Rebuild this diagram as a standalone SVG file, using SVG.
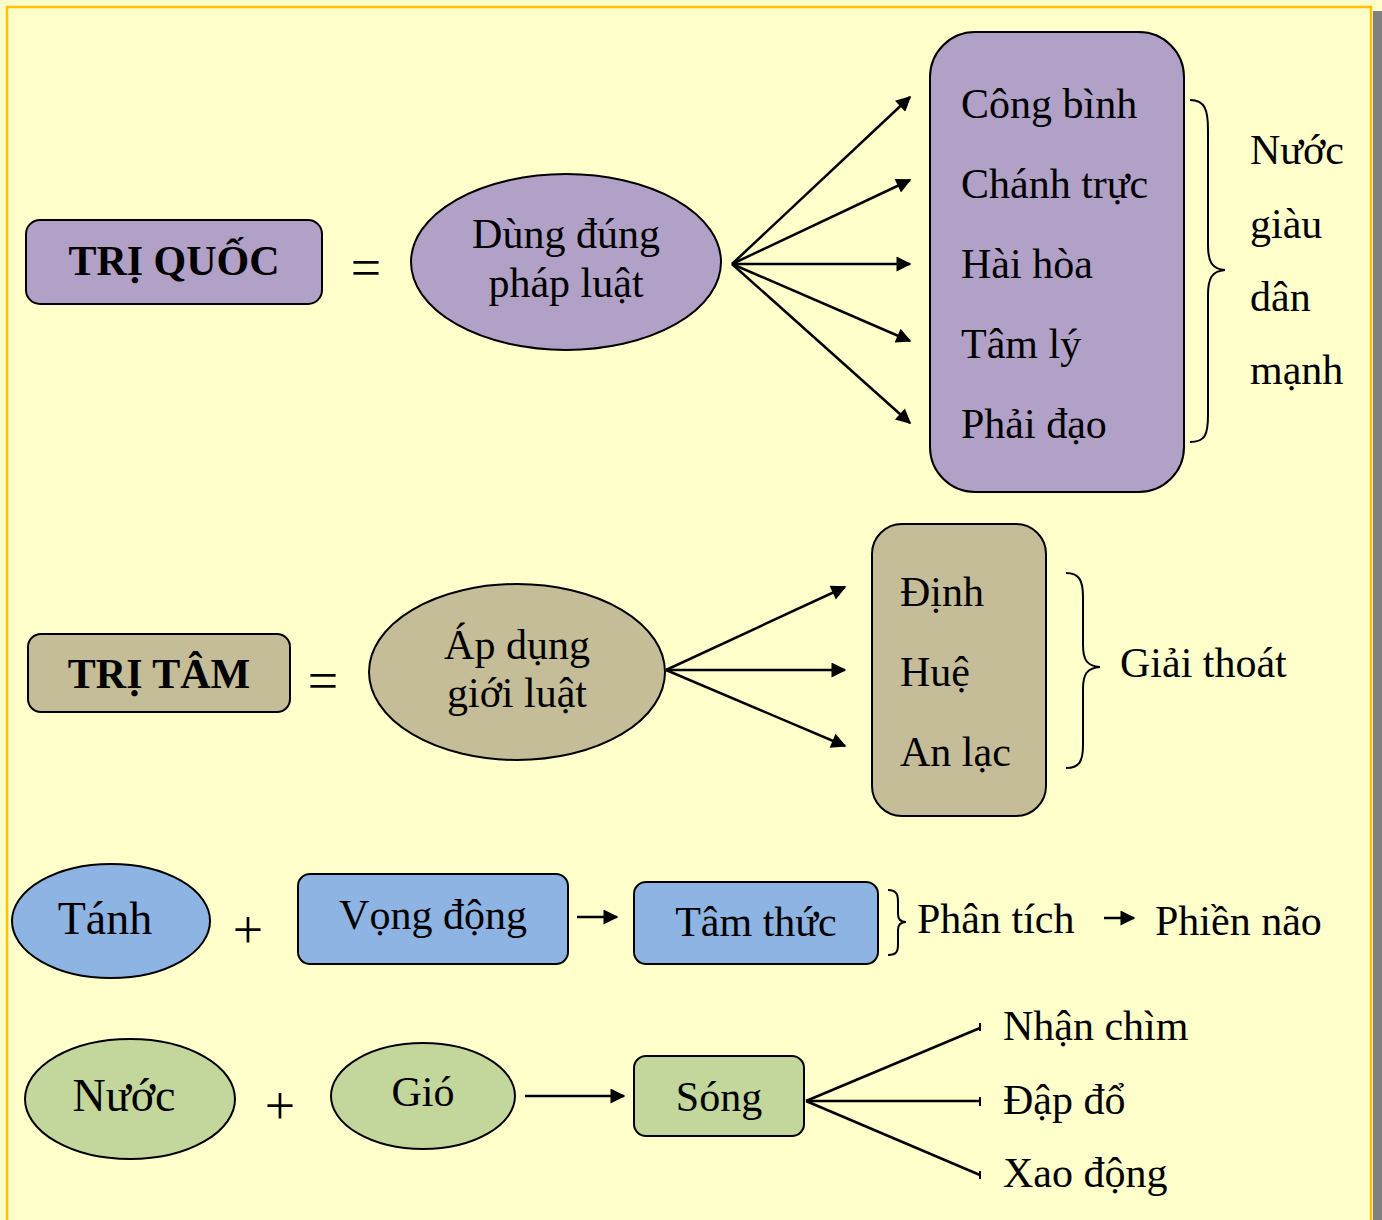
<svg xmlns="http://www.w3.org/2000/svg" width="1382" height="1220" viewBox="0 0 1382 1220">
<defs>
<style>
.t{font-family:"Liberation Serif","Times New Roman",serif;font-size:42px;fill:#000}
.b{font-weight:bold}
.big{font-size:46px}
.op{font-size:54px}
.s{stroke:#000;stroke-width:2}
.ln{stroke:#000;stroke-width:2.5;fill:none}
.br{stroke:#000;stroke-width:2;fill:none}
.pu{fill:#B2A1C7}
.tn{fill:#C4BD97}
.bl{fill:#8EB4E3}
.gr{fill:#C3D69B}
</style>
<marker id="ah" viewBox="0 0 10 10" refX="9" refY="5" markerWidth="7" markerHeight="6" markerUnits="strokeWidth" orient="auto">
<path d="M0,0 L10,5 L0,10 Z" fill="#000"/>
</marker>
</defs>
<rect x="0" y="0" width="1382" height="1220" fill="#FFFFCC"/>
<rect x="1373" y="11" width="9" height="1209" fill="#808080"/>
<path d="M7,1220 V7 H1371 V1220" fill="none" stroke="#FFC000" stroke-width="2.5"/>

<g id="connectors">
<line class="ln" x1="732" y1="264" x2="910" y2="97" marker-end="url(#ah)"/>
<line class="ln" x1="732" y1="264" x2="910" y2="180" marker-end="url(#ah)"/>
<line class="ln" x1="732" y1="264" x2="910" y2="264" marker-end="url(#ah)"/>
<line class="ln" x1="732" y1="264" x2="910" y2="341" marker-end="url(#ah)"/>
<line class="ln" x1="732" y1="264" x2="910" y2="423" marker-end="url(#ah)"/>
<line class="ln" x1="666" y1="670" x2="845" y2="587" marker-end="url(#ah)"/>
<line class="ln" x1="666" y1="670" x2="845" y2="670" marker-end="url(#ah)"/>
<line class="ln" x1="666" y1="670" x2="845" y2="746" marker-end="url(#ah)"/>
<line class="ln" x1="577" y1="917" x2="617" y2="917" marker-end="url(#ah)"/>
<line class="ln" x1="1104" y1="918" x2="1134" y2="918" marker-end="url(#ah)"/>
<line class="ln" x1="525" y1="1096" x2="624" y2="1096" marker-end="url(#ah)"/>
<line class="ln" x1="806" y1="1101" x2="980" y2="1028"/>
<line class="ln" x1="806" y1="1101" x2="980" y2="1101"/>
<line class="ln" x1="806" y1="1101" x2="980" y2="1175"/>
<line class="br" x1="980" y1="1023" x2="980" y2="1031"/>
<line class="br" x1="980" y1="1097" x2="980" y2="1106"/>
<line class="br" x1="980" y1="1171" x2="980" y2="1179"/>
<path class="br" d="M1190,100 C1205,100 1208,110 1208,130 L1208,245 C1208,262 1212,269 1225,270 C1212,271 1208,278 1208,295 L1208,415 C1208,435 1205,442 1190,442"/>
<path class="br" d="M1066,573 C1079,573 1083,580 1083,597 L1083,645 C1083,660 1087,666 1100,667 C1087,668 1083,674 1083,689 L1083,745 C1083,762 1079,768 1066,768"/>
<path class="br" d="M888,890 C897,890 898,895 898,902 L898,914 C898,919 901,922 906,922 C901,922 898,925 898,930 L898,944 C898,951 897,955 888,955"/>
</g>

<g id="tri-quoc"><rect class="s pu" x="26" y="220" width="296" height="84" rx="14"/><text class="t b" x="174" y="275" text-anchor="middle">TRỊ QUỐC</text></g>
<g id="eq1"><text class="t op" x="366" y="286" text-anchor="middle">=</text></g>
<g id="dung-dung"><ellipse class="s pu" cx="566" cy="262" rx="155" ry="88"/><text class="t" x="566" y="248" text-anchor="middle">Dùng đúng</text><text class="t" x="566" y="297" text-anchor="middle">pháp luật</text></g>
<g id="qualities"><rect class="s pu" x="930" y="32" width="254" height="460" rx="45"/>
<text class="t" x="961" y="118">Công bình</text>
<text class="t" x="961" y="198">Chánh trực</text>
<text class="t" x="961" y="278">Hài hòa</text>
<text class="t" x="961" y="358">Tâm lý</text>
<text class="t" x="961" y="438">Phải đạo</text></g>
<g id="nuoc-giau"><text class="t" x="1250" y="164">Nước</text><text class="t" x="1250" y="238">giàu</text><text class="t" x="1250" y="311">dân</text><text class="t" x="1250" y="384">mạnh</text></g>

<g id="tri-tam"><rect class="s tn" x="28" y="634" width="262" height="78" rx="13"/><text class="t b" x="159" y="688" text-anchor="middle">TRỊ TÂM</text></g>
<g id="eq2"><text class="t op" x="323" y="699" text-anchor="middle">=</text></g>
<g id="ap-dung"><ellipse class="s tn" cx="517" cy="672" rx="148" ry="88"/><text class="t" x="517" y="659" text-anchor="middle">Áp dụng</text><text class="t" x="517" y="707" text-anchor="middle">giới luật</text></g>
<g id="dinh-hue"><rect class="s tn" x="872" y="524" width="174" height="292" rx="30"/>
<text class="t" x="900" y="606">Định</text>
<text class="t" x="900" y="686">Huệ</text>
<text class="t" x="900" y="766">An lạc</text></g>
<g id="giai-thoat"><text class="t" x="1120" y="677">Giải thoát</text></g>

<g id="tanh"><ellipse class="s bl" cx="111" cy="921" rx="99" ry="57"/><text class="t big" x="105" y="934" text-anchor="middle">Tánh</text></g>
<g id="plus1"><text class="t op" x="248" y="948" text-anchor="middle">+</text></g>
<g id="vong-dong"><rect class="s bl" x="298" y="874" width="270" height="90" rx="12"/><text class="t" x="433" y="929" text-anchor="middle">Vọng động</text></g>
<g id="tam-thuc"><rect class="s bl" x="634" y="882" width="244" height="82" rx="12"/><text class="t" x="756" y="936" text-anchor="middle">Tâm thức</text></g>
<g id="phan-tich"><text class="t" x="917" y="933">Phân tích</text></g>
<g id="phien-nao"><text class="t" x="1155" y="935">Phiền não</text></g>

<g id="nuoc"><ellipse class="s gr" cx="130" cy="1099" rx="105" ry="60"/><text class="t big" x="124" y="1111" text-anchor="middle">Nước</text></g>
<g id="plus2"><text class="t op" x="280" y="1124" text-anchor="middle">+</text></g>
<g id="gio"><ellipse class="s gr" cx="423" cy="1096" rx="92" ry="53"/><text class="t" x="423" y="1106" text-anchor="middle">Gió</text></g>
<g id="song"><rect class="s gr" x="634" y="1056" width="170" height="80" rx="12"/><text class="t" x="719" y="1111" text-anchor="middle">Sóng</text></g>
<g id="nhan-chim"><text class="t" x="1003" y="1040">Nhận chìm</text></g>
<g id="dap-do"><text class="t" x="1003" y="1114">Đập đổ</text></g>
<g id="xao-dong"><text class="t" x="1003" y="1187">Xao động</text></g>
</svg>
